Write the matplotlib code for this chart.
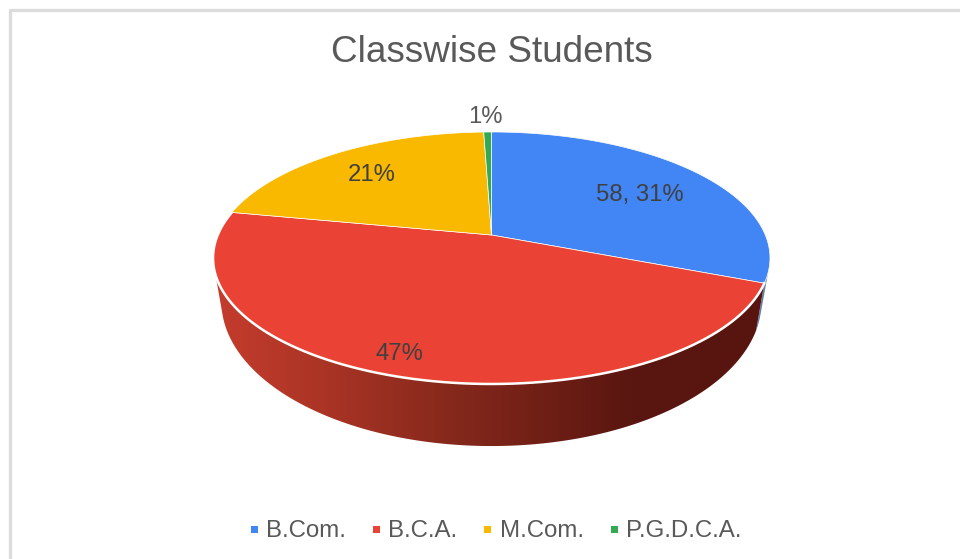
import numpy as np
import matplotlib
matplotlib.use('Agg')
import matplotlib.pyplot as plt
from matplotlib.colors import LinearSegmentedColormap
from matplotlib.patches import Polygon, Rectangle

plt.rcParams['font.family'] = ['Liberation Sans', 'DejaVu Sans']

title = 'Classwise Students'
categories = ['B.Com.', 'B.C.A.', 'M.Com.', 'P.G.D.C.A.']
values = [58, 88, 40, 1]
labels = ['58, 31%', '47%', '21%', '1%']
colors = ['#4285f4', '#ea4335', '#f9b900', '#34a853']

# layout, all in pixels of the 960x559 picture
cx, cy = 491.5, 235
k = 0.1825        # perspective of the pie top
a, b = 121.8, 273.8
label_xy = [(640, 195), (399, 354), (372, 175), (485, 117)]
legend_x = [254, 376, 487.5, 614]


def top(theta):
    # theta in degrees, clockwise from 12 o'clock
    t = np.radians(theta)
    w = 1 + k*np.cos(t)
    return cx + b*np.sin(t)/w, cy - a*np.cos(t)/w


def bottom(theta):
    x, y = top(theta)
    return cx + 0.97*(x-cx), 275 + 1.148*(y-cy)


fig = plt.figure(figsize=(9.6, 5.59), dpi=100)
ax = fig.add_axes([0, 0, 1, 1])
ax.set_xlim(0, 960)
ax.set_ylim(559, 0)
ax.axis('off')

# chart frame, only top and left are in the crop
ax.add_patch(Rectangle((0, 0), 960, 559, fc='#ffffff', ec='none', zorder=0))
ax.plot([10, 10, 960], [559, 9.5, 9.5], color='#dcdcdc', lw=2.4, zorder=1)

edges = np.cumsum([0] + values) / sum(values) * 360

# side wall of the B.Com. slice, only a sliver is visible
th = np.linspace(edges[1]-5, edges[1], 20)
xt, yt = top(th)
xb, yb = bottom(th)
wall = np.r_[np.c_[xt, yt], np.c_[xb, yb][::-1]]
ax.add_patch(Polygon(wall, fc='#5f7fae', ec='none', zorder=2))

# side wall of the B.C.A. slice with a dark gradient
xt, yt = top(np.linspace(edges[1], 252, 200))
xb, yb = bottom(np.linspace(edges[1], 255, 200))
wall = np.r_[np.c_[xt, yt], np.c_[xb, yb][::-1]]
side = Polygon(wall, fc='none', ec='none', transform=ax.transData)
ax.add_patch(side)
cmap = LinearSegmentedColormap.from_list('side', [(0, '#c53c2d'), (0.18, '#ad3526'),
                                                  (0.40, '#8a2a1d'), (0.75, '#5a1610'), (1, '#58150f')])
im = ax.imshow(np.linspace(0, 1, 256)[None, :], cmap=cmap, aspect='auto',
               extent=[213, 770, 460, 200], zorder=3)
im.set_clip_path(side)
ax.set_xlim(0, 960)
ax.set_ylim(559, 0)

# top face of the pie
for i in range(len(values)):
    th = np.linspace(edges[i], edges[i+1], 200)
    xt, yt = top(th)
    pts = np.r_[[[cx, cy]], np.c_[xt, yt]]
    ax.add_patch(Polygon(pts, fc=colors[i], ec='#ffffff', lw=0.5, joinstyle='round', zorder=4))

# white rim along the front of the pie
xt, yt = top(np.linspace(edges[1], edges[2], 200))
ax.plot(xt, yt, color='#ffffff', lw=1.8, zorder=4.5)

for lab, (x, y) in zip(labels, label_xy):
    ax.text(x, y, lab, fontsize=17.2, color='#404040', ha='center', va='center', zorder=5)
ax.texts[-1].set_color('#595959')

ax.text(492, 52, title, fontsize=26.6, color='#595959', ha='center', va='center')

for name, col, x in zip(categories, colors, legend_x):
    ax.add_patch(Rectangle((x-3.5, 525.5), 7, 7, fc=col, ec='none'))
    ax.text(x+12, 531, name, fontsize=17.3, color='#595959', ha='left', va='center')

fig.savefig('out.png', dpi=100)
